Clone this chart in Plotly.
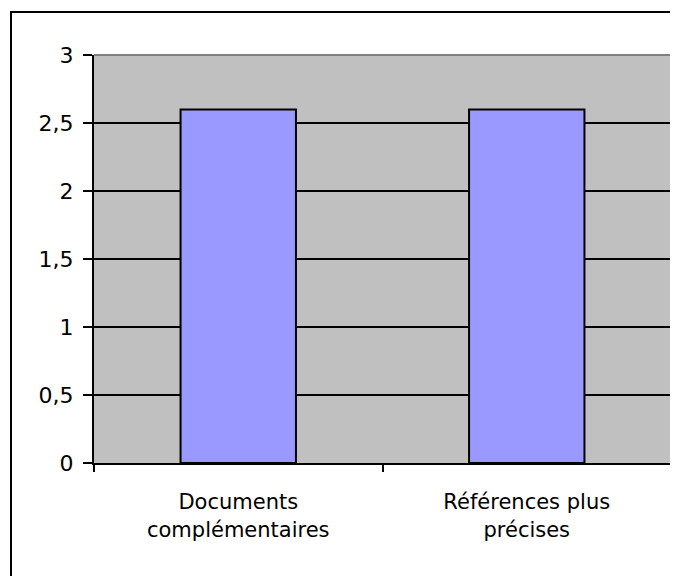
import plotly.graph_objects as go

categories = ["Documents<br>complémentaires", "Références plus<br>précises"]
values = [2.6, 2.6]
ytick_vals = [0, 0.5, 1, 1.5, 2, 2.5, 3]
ytick_text = ["0", "0,5", "1", "1,5", "2", "2,5", "3"]

# page has an 8px body margin; figure fills the rest of the 678x576 window
OFF = 8
W, H = 678 - OFF, 576 - OFF
L, R, T, B = 94 - OFF, 7, 55 - OFF, 113
pw, ph = W - L - R, H - T - B

def px2paper_x(x):
    return (x - OFF - L) / pw

def px2paper_y(y):
    return (H - B - (y - OFF)) / ph

fig = go.Figure()
fig.add_trace(go.Bar(
    x=categories, y=values,
    marker=dict(color="#9999FF", line=dict(color="black", width=2)),
))

fig.update_layout(
    width=W, height=H,
    margin=dict(l=L, r=R, t=T, b=B, pad=0),
    paper_bgcolor="white",
    plot_bgcolor="#C0C0C0",
    bargap=0.6,
    showlegend=False,
    font=dict(family="DejaVu Sans", color="black"),
    xaxis=dict(
        type="category",
        showline=True, linecolor="black", linewidth=2,
        ticks="outside", tickson="boundaries", ticklen=7, tickwidth=2, tickcolor="black",
        tickfont=dict(size=21, family="DejaVu Sans", color="black"),
        ticklabelstandoff=19,
        showgrid=False,
    ),
    yaxis=dict(
        range=[0, 3],
        tickvals=ytick_vals, ticktext=ytick_text,
        showline=True, linecolor="black", linewidth=2,
        ticks="outside", ticklen=9, tickwidth=2, tickcolor="black",
        tickfont=dict(size=22, family="DejaVu Sans", color="black"),
        ticklabelstandoff=5,
        showgrid=True, gridcolor="black", gridwidth=2,
        zeroline=False,
    ),
    shapes=[
        dict(type="path", xref="paper", yref="paper", layer="above",
             path="M 0,1 L 1,1 L 1,0",
             line=dict(color="#808080", width=2)),
        dict(type="rect", xref="paper", yref="paper", layer="above",
             x0=px2paper_x(11), x1=px2paper_x(720),
             y0=px2paper_y(620), y1=px2paper_y(12),
             line=dict(color="black", width=2), fillcolor="rgba(0,0,0,0)"),
    ],
)

fig.write_html("out.html")
